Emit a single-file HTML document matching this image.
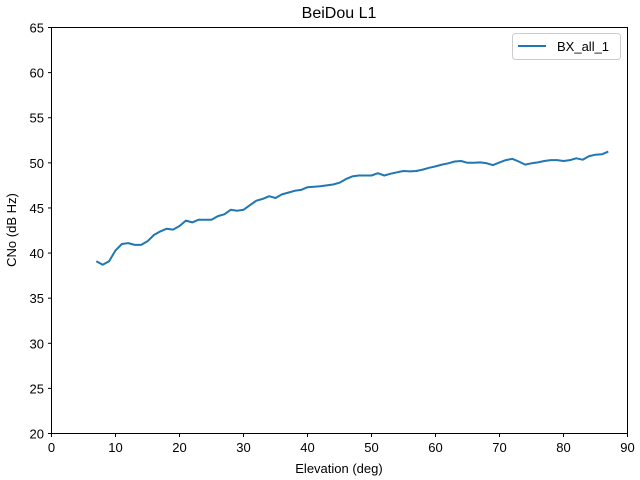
<!DOCTYPE html>
<html><head><meta charset="utf-8"><style>
body{margin:0;background:#fff;}
svg{display:block;font-family:"Liberation Sans",sans-serif;}
</style></head><body>
<svg id="s" width="640" height="480" viewBox="0 0 640 480">
<rect width="640" height="480" fill="#fff"/>
<text x="339" y="18" font-size="16" text-anchor="middle">BeiDou L1</text>
<g id="ticks" font-size="13" fill="#000"></g>
<polyline id="line" fill="none" stroke="#1f77b4" stroke-width="2" stroke-linejoin="round"/>
<rect x="51.5" y="27.5" width="576" height="406" fill="none" stroke="#000" stroke-width="1"/>
<text x="339" y="473" font-size="13" text-anchor="middle">Elevation (deg)</text>
<text transform="translate(16,230) rotate(-90)" font-size="13" text-anchor="middle">CNo (dB Hz)</text>
<rect x="512.5" y="33.5" width="108" height="26" rx="3" fill="#fff" stroke="#ccc"/>
<line x1="518" y1="46" x2="546" y2="46" stroke="#1f77b4" stroke-width="2"/>
<text x="557" y="51" font-size="13">BX_all_1</text>
</svg>
<script>
var X=function(v){return 51.5+v*6.4},Y=function(v){return 433.5-(v-20)*9.022};
var g=document.getElementById('ticks'),h='';
for(var i=0;i<=90;i+=10){var x=X(i);h+='<line x1="'+x+'" y1="433.5" x2="'+x+'" y2="437" stroke="#000"/><text x="'+x+'" y="452" text-anchor="middle">'+i+'</text>';}
for(var j=20;j<=65;j+=5){var y=Y(j);h+='<line x1="48" y1="'+y+'" x2="51.5" y2="'+y+'" stroke="#000"/><text x="44" y="'+(y+5)+'" text-anchor="end">'+j+'</text>';}
g.innerHTML=h;
var d=[39.1,38.7,39.1,40.3,41.0,41.1,40.9,40.9,41.3,42.0,42.4,42.7,42.6,43.0,43.6,43.4,43.7,43.7,43.7,44.1,44.3,44.8,44.7,44.8,45.3,45.8,46.0,46.3,46.1,46.5,46.7,46.9,47.0,47.3,47.35,47.4,47.5,47.6,47.8,48.2,48.5,48.6,48.6,48.6,48.85,48.6,48.8,48.95,49.1,49.05,49.1,49.25,49.45,49.6,49.8,49.95,50.15,50.2,50.0,50.0,50.05,49.95,49.75,50.05,50.3,50.45,50.15,49.8,49.95,50.05,50.2,50.3,50.3,50.2,50.3,50.5,50.35,50.75,50.9,50.95,51.25];
var p=d.map(function(v,k){return X(7+k).toFixed(1)+','+Y(v).toFixed(1)}).join(' ');
document.getElementById('line').setAttribute('points',p);
</script>
</body></html>
